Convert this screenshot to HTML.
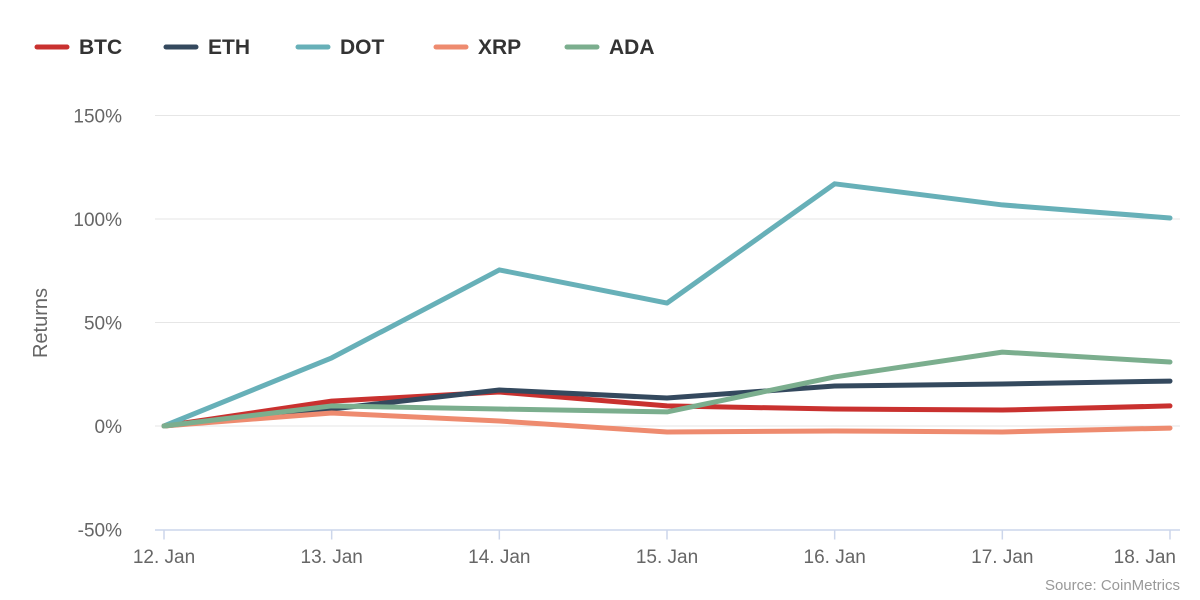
<!DOCTYPE html>
<html><head><meta charset="utf-8"><style>
body{margin:0;background:#fff;font-family:"Liberation Sans",sans-serif}
svg{display:block}
</style></head><body>
<svg id="chart" width="1200" height="600"></svg>
<script>
const categories=["12. Jan","13. Jan","14. Jan","15. Jan","16. Jan","17. Jan","18. Jan"];
const yTicks=[-50,0,50,100,150];
const seriesNames=["BTC","ETH","DOT","XRP","ADA"];
const seriesColors=["#c9312f","#34495e","#67b0b8","#ee8b6f","#7bae8e"];
const btc=[0,12,16.4,9.7,8.2,7.7,9.7];
const eth=[0,8.2,17.4,13.5,19.3,20.3,21.7];
const dot=[0,32.9,75.4,59.4,117,106.8,100.5];
const xrp=[0,6.3,2.4,-2.9,-2.4,-2.9,-1];
const ada=[0,9.7,8.2,6.8,23.7,35.7,30.9];
const seriesData=[btc,eth,dot,xrp,ada];

const NS="http://www.w3.org/2000/svg";
const svg=document.getElementById("chart");
const x0=164,x1=1170,yZero=426,pxPer=2.07;
const xs=i=>x0+i*(x1-x0)/(categories.length-1);
const ys=v=>yZero-v*pxPer;
function mk(tag,attrs,parent){const e=document.createElementNS(NS,tag);for(const k in attrs)e.setAttribute(k,attrs[k]);(parent||svg).appendChild(e);return e;}

yTicks.forEach(t=>{
  const y=ys(t);
  if(t!==-50){const g=mk("line",{x1:155,x2:1180,y1:y,y2:y,stroke:"#e6e6e6","stroke-width":1});
  
  }
  const l=mk("text",{x:122,y:y+7,"text-anchor":"end","font-size":19,fill:"#666"});
  l.textContent=t+"%";
  
  
});
const ax=mk("line",{x1:155,x2:1180,y1:ys(-50)+0.5,y2:ys(-50)+0.5,stroke:"#ccd6eb","stroke-width":1.5});


categories.forEach((c,i)=>{
  const t=mk("line",{x1:xs(i),x2:xs(i),y1:ys(-50),y2:ys(-50)+10,stroke:"#ccd6eb","stroke-width":1.5});
  
  
  const l=mk("text",{x:i===categories.length-1?1176:xs(i),y:563,"text-anchor":i===categories.length-1?"end":"middle","font-size":19,fill:"#666"});
  l.textContent=c;
  
  
});
const yt=mk("text",{x:0,y:0,transform:"translate(47,323) rotate(-90)","text-anchor":"middle","font-size":20,fill:"#666"});
yt.textContent="Returns";



seriesData.forEach((d,si)=>{
  const p=mk("polyline",{points:d.map((v,i)=>xs(i)+","+ys(v)).join(" "),fill:"none",stroke:seriesColors[si],"stroke-width":5,"stroke-linejoin":"round","stroke-linecap":"round"});
  
  
});

const legendX=[37,166,298,436,567];
seriesNames.forEach((n,i)=>{
  const g=mk("g",{});
  
  
  mk("line",{x1:legendX[i],x2:legendX[i]+30,y1:47,y2:47,stroke:seriesColors[i],"stroke-width":5,"stroke-linecap":"round"},g);
  const t=mk("text",{x:legendX[i]+42,y:54,"font-size":21,"font-weight":"bold",fill:"#333"},g);
  t.textContent=n;
});
const src=mk("text",{x:1180,y:590,"text-anchor":"end","font-size":15,fill:"#999"});
src.textContent="Source: CoinMetrics";


</script>
</body></html>
